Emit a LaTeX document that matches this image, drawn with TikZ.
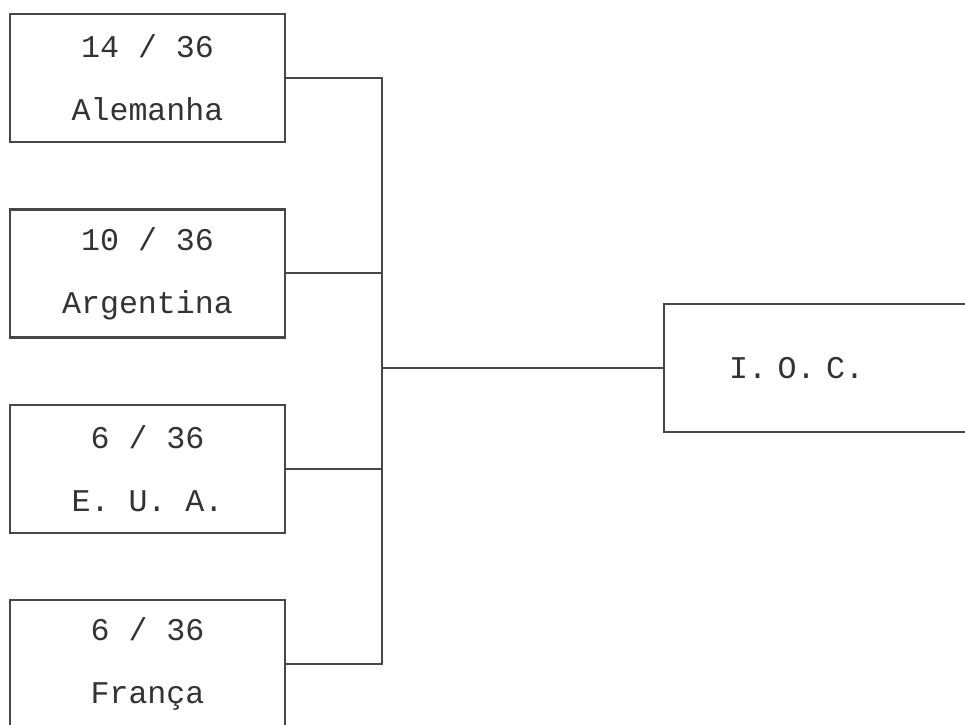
\documentclass[tikz,border=0pt]{standalone}
\usepackage{fontspec}
\setmonofont{Liberation Mono}
\usetikzlibrary{positioning}
\tikzset{
  team/.style={draw=black!72, line width=1.7pt, align=center, fill=white,
    minimum width=6.875cm, minimum height=3.2cm, inner sep=0pt,
    font=\ttfamily\frenchspacing\fontsize{22.5}{44.8}\selectfont, text=black!80},
  final/.style={team, minimum width=0pt, text width=9cm, align=left, anchor=west},
  link/.style={draw=black!72, line width=1.5pt}
}
\begin{document}
\begin{tikzpicture}[node distance=1.625cm]
  \useasboundingbox (0,0) rectangle (24.125,-18.125);
  \clip (0,0) rectangle (24.125,-18.125);

  % teams
  \node[team] (ale) at (3.6875,-1.95) {14 / 36\\Alemanha};
  \node[team, below=of ale] (arg) {10 / 36\\Argentina};
  \node[team, below=of arg] (eua) {6 / 36\\E. U. A.};
  \node[team, below=of eua] (fra) {6 / 36\\França};

  % result
  \node[final] (ioc) at (16.575,-9.2) {\hspace*{1.625cm}I. O. C.};

  % bracket
  \coordinate (spine) at (9.55,0);
  \draw[link] (ale.east) -| (spine |- fra.east) -- (fra.east);
  \draw[link] (arg.east) -- (arg.east -| spine);
  \draw[link] (eua.east) -- (eua.east -| spine);
  \draw[link] (ioc.west) -- (ioc.west -| spine);
\end{tikzpicture}
\end{document}
